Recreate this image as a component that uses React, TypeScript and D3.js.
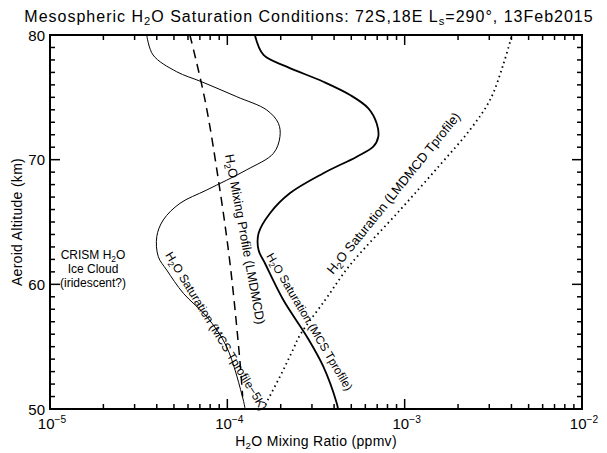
import React from "react";
import * as d3 from "d3";

// MCS Tprofile - 5K saturation (thin solid)
const satMcs5Alt = [80, 78.4, 77.06, 76.25, 75.05, 73.98, 72.92, 71.84, 70.51, 69.17, 67.57, 66.5, 65.16, 63.82, 62.22, 61.15, 59.28, 57.4, 55.0, 50.72, 50];
const satMcs5Val = [3.51e-5, 3.81e-5, 5.17e-5, 7.16e-5, 1.13e-4, 1.67e-4, 1.94e-4, 1.98e-4, 1.82e-4, 1.28e-4, 7.66e-5, 5.41e-5, 4.35e-5, 4.0e-5, 4.08e-5, 4.55e-5, 5.65e-5, 7.66e-5, 9.9e-5, 1.23e-4, 1.26e-4];

// MCS Tprofile saturation (thick solid)
const satMcsAlt = [80, 78.4, 77.46, 76.25, 75.19, 74.12, 72.92, 71.84, 71.04, 70.24, 68.91, 67.3, 65.7, 64.09, 62.75, 61.69, 58.74, 55.8, 53.39, 50.46, 50];
const satMcsVal = [1.43e-4, 1.6e-4, 2.16e-4, 3.48e-4, 4.92e-4, 6.24e-4, 6.95e-4, 7.1e-4, 6.65e-4, 5.37e-4, 3.48e-4, 2.25e-4, 1.74e-4, 1.5e-4, 1.5e-4, 1.63e-4, 2.07e-4, 2.81e-4, 3.48e-4, 4.14e-4, 4.21e-4];

// LMDMCD mixing profile (dashed)
const mixAlt = [80, 74.8, 68.4, 61.7, 53.7, 51];
const mixVal = [6.15e-5, 7.48e-5, 8.9e-5, 1.035e-4, 1.18e-4, 1.22e-4];

// LMDMCD Tprofile saturation (dotted)
const satLmdAlt = [50, 52.9, 54.73, 55.94, 58.74, 61.55, 65.96, 69.57, 72.38, 74.79, 77.59, 80];
const satLmdVal = [1.59e-4, 2.03e-4, 2.34e-4, 2.57e-4, 3.56e-4, 4.92e-4, 9.42e-4, 1.58e-3, 2.33e-3, 3.03e-3, 3.59e-3, 4.03e-3];

const xMajor = [1e-5, 1e-4, 1e-3, 1e-2];
const xMajorExp = ["\u22125", "\u22124", "\u22123", "\u22122"];
const yMajor = [50, 60, 70, 80];

const FONT = "'Liberation Sans', Arial, Helvetica, sans-serif";

const L = 50, R = 582, T = 35, B = 409;

export default function App() {
  const x = d3.scaleLog().domain([1e-5, 1e-2]).range([L, R]);
  const y = d3.scaleLinear().domain([50, 80]).range([B, T]);

  const mk = (alts: number[], vals: number[]) =>
    d3
      .line<number>()
      .x((_, i) => x(vals[i]))
      .y((a) => y(a))
      .curve(d3.curveCatmullRom.alpha(0.5))(alts) || "";

  const xMinor: number[] = [];
  for (let e = -5; e < -2; e++) {
    for (let m = 2; m <= 9; m++) xMinor.push(m * Math.pow(10, e));
  }
  const yMinor: number[] = [];
  for (let v = 51; v < 80; v++) if (v % 10 !== 0) yMinor.push(v);

  const rotLabel = (
    tx: number,
    ty: number,
    ang: number,
    rest: string,
    size = 12
  ) => (
    <text
      transform={`translate(${tx},${ty}) rotate(${ang})`}
      fontSize={size}
      fontFamily={FONT}
      fill="#000"
      style={{ whiteSpace: "pre" }}
    >
      H<tspan fontSize="0.7em" dy="0.3em">2</tspan>
      <tspan dy="-0.21em">{"O " + rest}</tspan>
    </text>
  );

  return (
    <svg width={607} height={453} style={{ position: "absolute", left: 0, top: 0, background: "#fff" }}>
      <rect x={0} y={0} width={607} height={453} fill="#fff" />
      {/* title */}
      <text x={309} y={22} textAnchor="middle" fontSize={16} letterSpacing={1} fontFamily={FONT} style={{ whiteSpace: "pre" }}>
        Mesospheric H<tspan fontSize="0.7em" dy="0.3em">2</tspan>
        <tspan dy="-0.21em">O Saturation Conditions: 72S,18E L</tspan>
        <tspan fontSize="0.7em" dy="0.3em">s</tspan>
        <tspan dy="-0.21em">=290°, 13Feb2015</tspan>
      </text>

      {/* curves */}
      <g fill="none" stroke="#000">
        <path d={mk(satMcs5Alt, satMcs5Val)} strokeWidth={1} />
        <path d={mk(satMcsAlt, satMcsVal)} strokeWidth={1.8} />
        <path d={mk(mixAlt, mixVal)} strokeWidth={1.5} strokeDasharray="9,6" />
        <path d={mk(satLmdAlt, satLmdVal)} strokeWidth={1.8} strokeDasharray="1.5,3.5" />
      </g>

      {/* ticks */}
      <g stroke="#000" strokeWidth={1.5}>
        {xMinor.map((v) => (
          <g key={"xm" + v}>
            <line x1={x(v)} x2={x(v)} y1={B} y2={B - 5} />
            <line x1={x(v)} x2={x(v)} y1={T} y2={T + 5} />
          </g>
        ))}
        {xMajor.map((v) => (
          <g key={"xM" + v}>
            <line x1={x(v)} x2={x(v)} y1={B} y2={B - 10} />
            <line x1={x(v)} x2={x(v)} y1={T} y2={T + 10} />
          </g>
        ))}
        {yMinor.map((v) => (
          <g key={"ym" + v}>
            <line x1={L} x2={L + 5} y1={y(v)} y2={y(v)} />
            <line x1={R} x2={R - 5} y1={y(v)} y2={y(v)} />
          </g>
        ))}
        {yMajor.map((v) => (
          <g key={"yM" + v}>
            <line x1={L} x2={L + 10} y1={y(v)} y2={y(v)} />
            <line x1={R} x2={R - 10} y1={y(v)} y2={y(v)} />
          </g>
        ))}
      </g>
      <rect x={L} y={T} width={R - L} height={B - T} fill="none" stroke="#000" strokeWidth={2} />

      {/* tick labels */}
      {yMajor.map((v) => (
        <text key={"yl" + v} x={45} y={y(v) + 5.5} textAnchor="end" fontSize={15} fontFamily={FONT}>
          {v}
        </text>
      ))}
      {xMajor.map((v, i) => (
        <text key={"xl" + v} x={x(v) + 2} y={429} textAnchor="middle" fontSize={15} fontFamily={FONT}>
          10<tspan fontSize="0.68em" dy="-0.55em">{xMajorExp[i]}</tspan>
        </text>
      ))}

      {/* axis titles */}
      <text x={316} y={446} textAnchor="middle" fontSize={14} letterSpacing={0.3} fontFamily={FONT} style={{ whiteSpace: "pre" }}>
        H<tspan fontSize="0.7em" dy="0.3em">2</tspan>
        <tspan dy="-0.21em">O Mixing Ratio (ppmv)</tspan>
      </text>
      <text transform={`translate(22,${(T + B) / 2}) rotate(-90)`} textAnchor="middle" fontSize={14} letterSpacing={0.3} fontFamily={FONT}>
        Aeroid Altitude (km)
      </text>

      {/* CRISM note */}
      <g fontSize={12} fontFamily={FONT} textAnchor="middle" style={{ whiteSpace: "pre" }}>
        <text x={93} y={259}>
          CRISM H<tspan fontSize="0.7em" dy="0.3em">2</tspan>
          <tspan dy="-0.21em">O</tspan>
        </text>
        <text x={93} y={273}>Ice Cloud</text>
        <text x={93} y={287}>(iridescent?)</text>
      </g>

      {/* curve labels */}
      {rotLabel(225, 155, 79.5, "Mixing Profile (LMDMCD)", 12.8)}
      {rotLabel(165, 255, 58.5, "Saturation (MCS Tprofile\u22125K)", 12)}
      {rotLabel(266, 256, 59.4, "Saturation (MCS Tprofile)", 11.7)}
      {rotLabel(333, 275, -51, "Saturation (LMDMCD Tprofile)", 13)}
    </svg>
  );
}
